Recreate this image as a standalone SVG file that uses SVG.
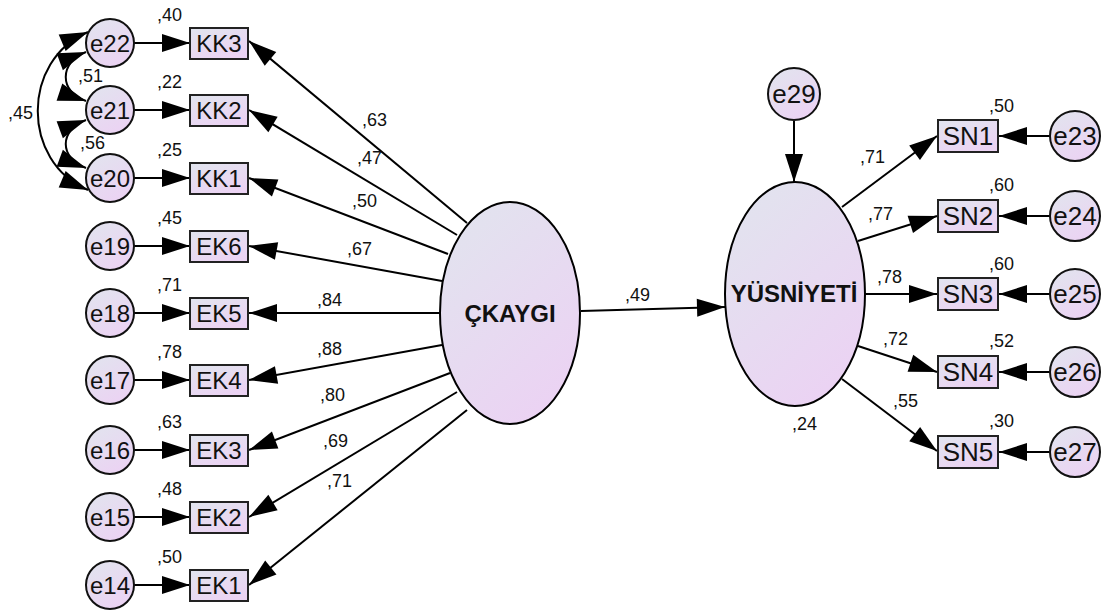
<svg xmlns="http://www.w3.org/2000/svg" width="1108" height="614" viewBox="0 0 1108 614">
  <defs>
    <linearGradient id="nodeFill" x1="0" y1="0" x2="0.6" y2="1">
      <stop offset="0" stop-color="#e1e5ee"/>
      <stop offset="1" stop-color="#ebd3f3"/>
    </linearGradient>
    <marker id="arrow" markerUnits="userSpaceOnUse" markerWidth="28" markerHeight="18" refX="28" refY="9" orient="auto-start-reverse" overflow="visible">
      <path d="M0,0 L28,9 L0,18 z" fill="#000"/>
    </marker>
    <style>
      .latent { fill: url(#nodeFill); stroke: #000; stroke-width: 2; }
      .err { fill: url(#nodeFill); stroke: #111; stroke-width: 2; }
      .obs { fill: url(#nodeFill); stroke: #222; stroke-width: 2; }
      .edge { fill: none; stroke: #000; stroke-width: 2; marker-end: url(#arrow); }
      .cov { fill: none; stroke: #000; stroke-width: 2; marker-start: url(#arrow); marker-end: url(#arrow); }
      text { font-family: "Liberation Sans", Arial, sans-serif; fill: #111; }
      .lbl { font-size: 24px; text-anchor: middle; }
      .lblR { font-size: 26px; text-anchor: middle; }
      .big { font-size: 24px; font-weight: bold; text-anchor: middle; }
      .val { font-size: 18px; }
    </style>
  </defs>

  <!-- connectors -->
  <g id="connectors">
    <!-- residuals into left indicators -->
    <line class="edge" x1="134" y1="43" x2="190" y2="43"/>
    <line class="edge" x1="134" y1="110" x2="190" y2="110"/>
    <line class="edge" x1="134" y1="178" x2="190" y2="178"/>
    <line class="edge" x1="134" y1="246" x2="190" y2="246"/>
    <line class="edge" x1="134" y1="313" x2="190" y2="313"/>
    <line class="edge" x1="134" y1="380" x2="190" y2="380"/>
    <line class="edge" x1="134" y1="450" x2="190" y2="450"/>
    <line class="edge" x1="134" y1="517" x2="190" y2="517"/>
    <line class="edge" x1="134" y1="585" x2="190" y2="585"/>
    <!-- loadings of ÇKAYGI -->
    <line class="edge" x1="467" y1="223" x2="249" y2="41"/>
    <line class="edge" x1="457" y1="235" x2="249" y2="110"/>
    <line class="edge" x1="448" y1="254" x2="249" y2="178"/>
    <line class="edge" x1="442" y1="281" x2="249" y2="246"/>
    <line class="edge" x1="440" y1="313" x2="249" y2="313"/>
    <line class="edge" x1="442" y1="345" x2="249" y2="380"/>
    <line class="edge" x1="450" y1="373" x2="249" y2="450"/>
    <line class="edge" x1="457" y1="392" x2="249" y2="517"/>
    <line class="edge" x1="467" y1="410" x2="249" y2="585"/>
    <!-- covariances between residuals -->
    <path class="cov" d="M88,32 C21,60 21,162 88,190"/>
    <path class="cov" d="M86,52 C59,62 59,92 86,101"/>
    <path class="cov" d="M86,120 C59,130 59,158 86,168"/>
    <!-- structural path -->
    <line class="edge" x1="581" y1="311" x2="725" y2="307"/>
    <!-- disturbance -->
    <line class="edge" x1="794" y1="121" x2="794" y2="182"/>
    <!-- loadings of YÜSNİYETİ -->
    <line class="edge" x1="842" y1="207" x2="937" y2="136"/>
    <line class="edge" x1="858" y1="241" x2="937" y2="216"/>
    <line class="edge" x1="865" y1="294" x2="937" y2="294"/>
    <line class="edge" x1="858" y1="346" x2="937" y2="372"/>
    <line class="edge" x1="842" y1="379" x2="937" y2="451"/>
    <!-- residuals into right indicators -->
    <line class="edge" x1="1050" y1="136" x2="999" y2="136"/>
    <line class="edge" x1="1050" y1="216" x2="999" y2="216"/>
    <line class="edge" x1="1050" y1="294" x2="999" y2="294"/>
    <line class="edge" x1="1050" y1="372" x2="999" y2="372"/>
    <line class="edge" x1="1050" y1="452" x2="999" y2="452"/>
  </g>

  <!-- latent variables -->
  <g id="CKAYGI">
    <ellipse class="latent" cx="510" cy="313" rx="70" ry="111"/>
    <text class="big" x="510" y="322">ÇKAYGI</text>
  </g>
  <g id="YUSNIYETI">
    <ellipse class="latent" cx="795" cy="294" rx="70" ry="112"/>
    <text class="big" x="794" y="302">YÜSNİYETİ</text>
    <text class="val" x="792" y="430">,24</text>
  </g>
  <g id="e29">
    <circle class="err" cx="794" cy="94" r="26"/>
    <text class="lblR" x="794" y="103">e29</text>
  </g>

  <!-- left residuals -->
  <g id="e22"><circle class="err" cx="110" cy="43" r="24"/><text class="lbl" x="110" y="51.5">e22</text></g>
  <g id="e21"><circle class="err" cx="110" cy="110" r="24"/><text class="lbl" x="110" y="118.5">e21</text></g>
  <g id="e20"><circle class="err" cx="110" cy="178" r="24"/><text class="lbl" x="110" y="186.5">e20</text></g>
  <g id="e19"><circle class="err" cx="110" cy="246" r="24"/><text class="lbl" x="110" y="254.5">e19</text></g>
  <g id="e18"><circle class="err" cx="110" cy="313" r="24"/><text class="lbl" x="110" y="321.5">e18</text></g>
  <g id="e17"><circle class="err" cx="110" cy="380" r="24"/><text class="lbl" x="110" y="388.5">e17</text></g>
  <g id="e16"><circle class="err" cx="110" cy="450" r="24"/><text class="lbl" x="110" y="458.5">e16</text></g>
  <g id="e15"><circle class="err" cx="110" cy="517" r="24"/><text class="lbl" x="110" y="525.5">e15</text></g>
  <g id="e14"><circle class="err" cx="110" cy="585" r="24"/><text class="lbl" x="110" y="593.5">e14</text></g>

  <!-- left indicators -->
  <g id="KK3"><rect class="obs" x="190" y="28" width="58" height="31"/><text class="lbl" x="219" y="52">KK3</text></g>
  <g id="KK2"><rect class="obs" x="190" y="95" width="58" height="31"/><text class="lbl" x="219" y="119">KK2</text></g>
  <g id="KK1"><rect class="obs" x="190" y="163" width="58" height="31"/><text class="lbl" x="219" y="187">KK1</text></g>
  <g id="EK6"><rect class="obs" x="190" y="231" width="58" height="31"/><text class="lbl" x="219" y="255">EK6</text></g>
  <g id="EK5"><rect class="obs" x="190" y="298" width="58" height="31"/><text class="lbl" x="219" y="322">EK5</text></g>
  <g id="EK4"><rect class="obs" x="190" y="365" width="58" height="31"/><text class="lbl" x="219" y="389">EK4</text></g>
  <g id="EK3"><rect class="obs" x="190" y="435" width="58" height="31"/><text class="lbl" x="219" y="459">EK3</text></g>
  <g id="EK2"><rect class="obs" x="190" y="502" width="58" height="31"/><text class="lbl" x="219" y="526">EK2</text></g>
  <g id="EK1"><rect class="obs" x="190" y="570" width="58" height="31"/><text class="lbl" x="219" y="594">EK1</text></g>

  <!-- right indicators -->
  <g id="SN1"><rect class="obs" x="938" y="120" width="60" height="32"/><text class="lblR" x="968" y="145">SN1</text></g>
  <g id="SN2"><rect class="obs" x="938" y="200" width="60" height="32"/><text class="lblR" x="968" y="225">SN2</text></g>
  <g id="SN3"><rect class="obs" x="938" y="278" width="60" height="32"/><text class="lblR" x="968" y="303">SN3</text></g>
  <g id="SN4"><rect class="obs" x="938" y="356" width="60" height="32"/><text class="lblR" x="968" y="381">SN4</text></g>
  <g id="SN5"><rect class="obs" x="938" y="436" width="60" height="32"/><text class="lblR" x="968" y="461">SN5</text></g>

  <!-- right residuals -->
  <g id="e23"><circle class="err" cx="1075" cy="136" r="25"/><text class="lblR" x="1075" y="145">e23</text></g>
  <g id="e24"><circle class="err" cx="1075" cy="216" r="25"/><text class="lblR" x="1075" y="225">e24</text></g>
  <g id="e25"><circle class="err" cx="1075" cy="294" r="25"/><text class="lblR" x="1075" y="303">e25</text></g>
  <g id="e26"><circle class="err" cx="1075" cy="372" r="25"/><text class="lblR" x="1075" y="381">e26</text></g>
  <g id="e27"><circle class="err" cx="1075" cy="452" r="25"/><text class="lblR" x="1075" y="461">e27</text></g>

  <!-- estimates -->
  <g id="estimates">
    <!-- squared multiple correlations, left -->
    <text class="val" x="157" y="21">,40</text>
    <text class="val" x="157" y="88">,22</text>
    <text class="val" x="157" y="156">,25</text>
    <text class="val" x="157" y="224">,45</text>
    <text class="val" x="157" y="291">,71</text>
    <text class="val" x="157" y="358">,78</text>
    <text class="val" x="157" y="428">,63</text>
    <text class="val" x="157" y="495">,48</text>
    <text class="val" x="157" y="563">,50</text>
    <!-- covariances -->
    <text class="val" x="8" y="119">,45</text>
    <text class="val" x="78" y="82">,51</text>
    <text class="val" x="80" y="149">,56</text>
    <!-- loadings, left -->
    <text class="val" x="362" y="126">,63</text>
    <text class="val" x="357" y="164">,47</text>
    <text class="val" x="352" y="207">,50</text>
    <text class="val" x="347" y="255">,67</text>
    <text class="val" x="317" y="306">,84</text>
    <text class="val" x="317" y="355">,88</text>
    <text class="val" x="320" y="401">,80</text>
    <text class="val" x="323" y="447">,69</text>
    <text class="val" x="327" y="487">,71</text>
    <!-- structural -->
    <text class="val" x="625" y="301">,49</text>
    <!-- loadings, right -->
    <text class="val" x="860" y="163">,71</text>
    <text class="val" x="868" y="220">,77</text>
    <text class="val" x="877" y="283">,78</text>
    <text class="val" x="883" y="345">,72</text>
    <text class="val" x="893" y="407">,55</text>
    <!-- squared multiple correlations, right -->
    <text class="val" x="989" y="112">,50</text>
    <text class="val" x="989" y="191">,60</text>
    <text class="val" x="989" y="270">,60</text>
    <text class="val" x="989" y="347">,52</text>
    <text class="val" x="989" y="427">,30</text>
  </g>
</svg>
